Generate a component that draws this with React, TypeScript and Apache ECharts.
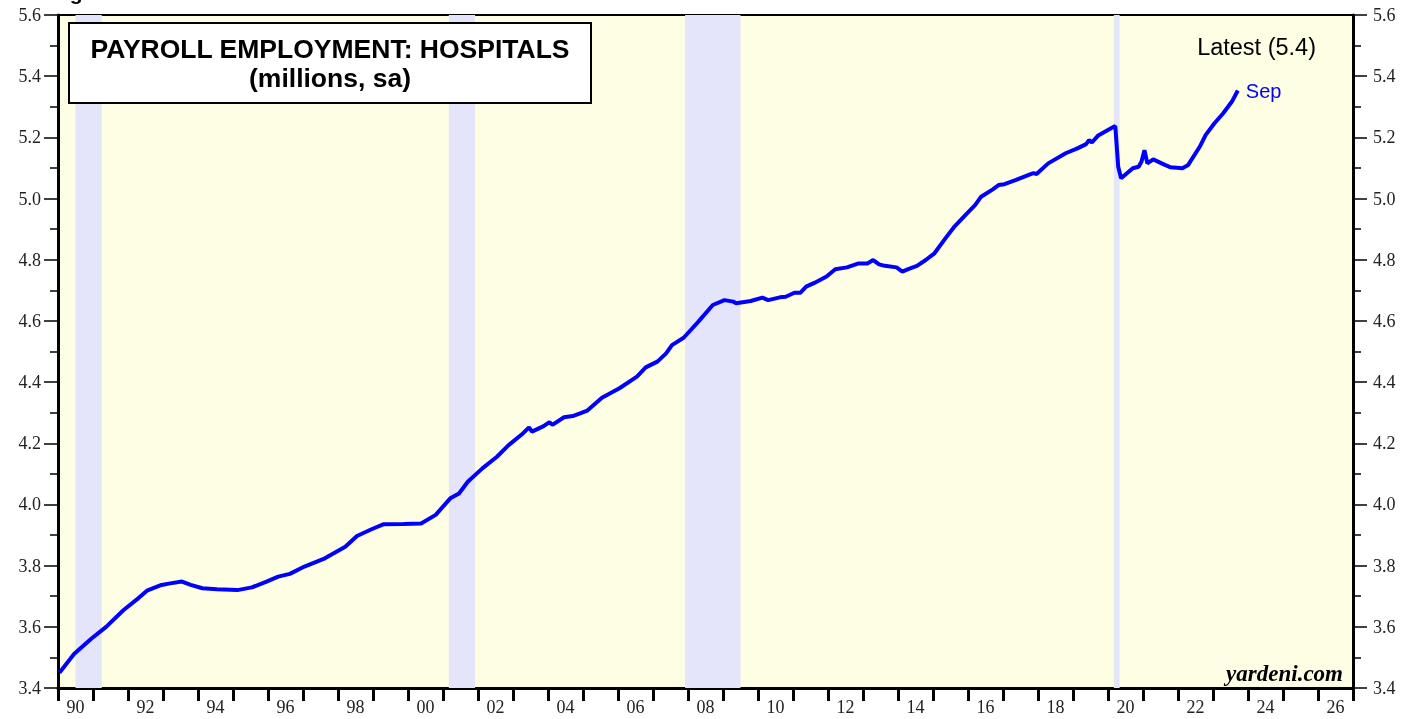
import React, { useEffect, useRef } from "react";
import * as echarts from "echarts";

// ---- Data ----
const months: string[] = [
  "1990-01","1990-06","1990-12","1991-05","1991-11","1992-04","1992-07","1992-12",
  "1993-03","1993-07","1993-10","1994-02","1994-07","1995-02","1995-07","1995-12",
  "1996-04","1996-08","1997-01","1997-08","1998-03","1998-07","1998-12","1999-04",
  "1999-11","2000-05","2000-10","2001-03","2001-06","2001-09","2002-02","2002-07",
  "2002-11","2003-04","2003-06","2003-07","2003-11","2004-01","2004-02","2004-06",
  "2004-09","2005-02","2005-07","2006-01","2006-07","2006-10","2007-02","2007-05",
  "2007-07","2007-11","2008-02","2008-04","2008-09","2009-01","2009-04","2009-05",
  "2009-10","2010-02","2010-04","2010-08","2010-10","2011-01","2011-03","2011-05",
  "2011-08","2011-12","2012-03","2012-07","2012-11","2013-02","2013-04","2013-06",
  "2013-08","2013-12","2014-02","2014-04","2014-07","2014-10","2015-01","2015-05",
  "2015-08","2015-12","2016-03","2016-05","2016-09","2016-11","2017-01","2017-05",
  "2017-10","2017-11","2017-12","2018-04","2018-10","2019-02","2019-05","2019-06",
  "2019-07","2019-09","2020-02","2020-03","2020-04","2020-05","2020-09","2020-11",
  "2020-12","2021-01","2021-02","2021-04","2021-08","2021-10","2022-02","2022-04",
  "2022-08","2022-10","2023-01","2023-04","2023-07","2023-09"
];
const employment: number[] = [
  3.450,3.511,3.562,3.600,3.655,3.693,3.718,3.737,
  3.742,3.748,3.737,3.726,3.723,3.720,3.729,3.748,
  3.764,3.773,3.797,3.824,3.862,3.897,3.919,3.935,
  3.936,3.938,3.966,4.020,4.036,4.074,4.118,4.156,
  4.194,4.233,4.252,4.238,4.256,4.269,4.260,4.285,
  4.289,4.307,4.349,4.380,4.418,4.448,4.467,4.494,
  4.521,4.545,4.576,4.597,4.652,4.668,4.663,4.658,
  4.665,4.676,4.668,4.677,4.679,4.692,4.692,4.712,
  4.725,4.745,4.769,4.775,4.788,4.788,4.799,4.785,
  4.780,4.775,4.761,4.769,4.780,4.799,4.821,4.873,
  4.910,4.950,4.979,5.006,5.030,5.044,5.047,5.061,
  5.080,5.083,5.080,5.115,5.148,5.164,5.178,5.191,
  5.183,5.205,5.232,5.237,5.104,5.066,5.099,5.104,
  5.121,5.158,5.115,5.128,5.110,5.102,5.099,5.110,
  5.170,5.208,5.246,5.279,5.317,5.353
];
const recessionStart: string[] = ["1990-07", "2001-03", "2007-12", "2020-03"];
const recessionEnd: string[] = ["1991-03", "2001-11", "2009-06", "2020-04"];
const yearLabels: string[] = [
  "90","91","92","93","94","95","96","97","98","99","00","01","02","03","04","05",
  "06","07","08","09","10","11","12","13","14","15","16","17","18","19","20","21",
  "22","23","24","25","26"
];
const titleLines: string[] = ["PAYROLL EMPLOYMENT: HOSPITALS", "(millions, sa)"];
const latestText = "Latest (5.4)";
const lastMonthLabel = "Sep";
const sourceText = "yardeni.com";
const figureText = "Figure 1.";

const X_MIN = 1990;
const X_MAX = 2027;

const midMonth = (s: string) => {
  const [y, m] = s.split("-").map(Number);
  return y + (m - 0.5) / 12;
};
const monthStart = (s: string) => {
  const [y, m] = s.split("-").map(Number);
  return y + (m - 1) / 12;
};
const monthEnd = (s: string) => {
  const [y, m] = s.split("-").map(Number);
  return y + m / 12;
};

export default function App() {
  const ref = useRef<HTMLDivElement>(null);

  useEffect(() => {
    if (!ref.current) return;
    const chart = echarts.init(ref.current, undefined, { renderer: "svg" });

    const lineData = months.map((m, i) => [midMonth(m), employment[i]]);
    const areas = recessionStart.map((s, i) => [
      { xAxis: monthStart(s) },
      { xAxis: monthEnd(recessionEnd[i]) },
    ]);

    const serif = "'Liberation Serif', 'Times New Roman', serif";
    const sans = "'Liberation Sans', Arial, Helvetica, sans-serif";

    const yAxisCommon = {
      type: "value",
      min: 3.4,
      max: 5.6,
      interval: 0.2,
      axisLine: { show: true, lineStyle: { color: "#000", width: 3 } },
      axisTick: { show: true, inside: false, length: 14, lineStyle: { color: "#000", width: 1.5 } },
      minorTick: { show: true, splitNumber: 2, length: 8, lineStyle: { color: "#000", width: 1.5 } },
      splitLine: { show: false },
      axisLabel: {
        fontFamily: serif,
        fontSize: 18,
        color: "#222",
        formatter: (v: number) => v.toFixed(1),
      },
    };

    chart.setOption({
      animation: false,
      grid: {
        left: 58,
        right: 68,
        top: 15,
        bottom: 31,
        show: true,
        backgroundColor: "#fefee4",
        borderColor: "#000",
        borderWidth: 2,
      },
      xAxis: [
        {
          type: "value",
          min: X_MIN,
          max: X_MAX,
          show: false,
        },
        {
          type: "category",
          position: "bottom",
          data: yearLabels,
          boundaryGap: true,
          axisLine: { show: true, lineStyle: { color: "#000", width: 3 } },
          axisTick: {
            show: true,
            interval: 0,
            alignWithLabel: false,
            length: 13,
            lineStyle: { color: "#000", width: 3 },
          },
          axisLabel: {
            interval: 1,
            margin: 10,
            fontFamily: serif,
            fontSize: 18,
            color: "#222",
          },
          splitLine: { show: false },
        },
      ],
      yAxis: [
        { ...yAxisCommon, position: "left", axisLabel: { ...yAxisCommon.axisLabel, margin: 17 } },
        { ...yAxisCommon, position: "right", axisLabel: { ...yAxisCommon.axisLabel, margin: 20 } },
      ],
      series: [
        {
          type: "line",
          xAxisIndex: 0,
          yAxisIndex: 0,
          data: [],
          silent: true,
          z: 1,
          markArea: {
            silent: true,
            itemStyle: { color: "#e4e4fa" },
            data: areas,
          },
        },
        {
          type: "line",
          xAxisIndex: 0,
          yAxisIndex: 0,
          data: lineData,
          showSymbol: false,
          symbol: "none",
          z: 3,
          lineStyle: { color: "#0000ff", width: 4 },
          endLabel: {
            show: true,
            formatter: () => lastMonthLabel,
            color: "#0000ff",
            fontFamily: sans,
            fontSize: 20,
            distance: 8,
          },
        },
      ],
      graphic: [
        {
          type: "text",
          left: 51,
          top: -18,
          style: {
            text: figureText,
            fontFamily: sans,
            fontWeight: "bold",
            fontSize: 21,
            fill: "#000",
          },
          z: 10,
        },
        {
          type: "rect",
          shape: { x: 69, y: 23, width: 522, height: 80 },
          style: { fill: "#ffffff", stroke: "#000", lineWidth: 2 },
          z: 10,
        },
        {
          type: "text",
          x: 330,
          y: 49,
          style: {
            text: titleLines[0],
            fontFamily: sans,
            fontWeight: "bold",
            fontSize: 26.5,
            fill: "#000",
            align: "center",
            verticalAlign: "middle",
          },
          z: 11,
        },
        {
          type: "text",
          x: 330,
          y: 78,
          style: {
            text: titleLines[1],
            fontFamily: sans,
            fontWeight: "bold",
            fontSize: 26.5,
            fill: "#000",
            align: "center",
            verticalAlign: "middle",
          },
          z: 11,
        },
        {
          type: "text",
          x: 1316,
          y: 47,
          style: {
            text: latestText,
            fontFamily: sans,
            fontSize: 23.5,
            fill: "#000",
            align: "right",
            verticalAlign: "middle",
          },
          z: 11,
        },
        {
          type: "text",
          x: 1343,
          y: 673,
          style: {
            text: sourceText,
            fontFamily: serif,
            fontWeight: "bold",
            fontStyle: "italic",
            fontSize: 23,
            fill: "#000",
            align: "right",
            verticalAlign: "middle",
          },
          z: 11,
        },
      ],
    });

    return () => {
      chart.dispose();
    };
  }, []);

  return (
    <div
      ref={ref}
      style={{ position: "fixed", left: 0, top: 0, width: 1421, height: 719 }}
    />
  );
}
